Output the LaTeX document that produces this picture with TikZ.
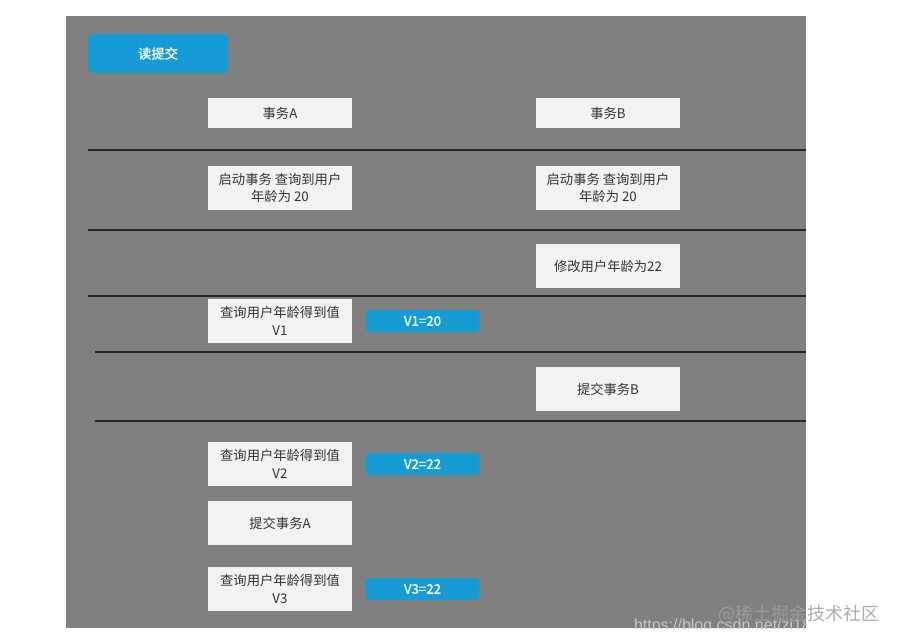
\documentclass[tikz,border=0pt]{standalone}
\usepackage{fontspec}
\setmainfont{Noto Sans CJK SC}
\newfontfamily\cjk{Noto Sans CJK SC}
\newfontfamily\cjkb[FakeBold=0.8]{Noto Sans CJK SC}
\newfontfamily\latinsans{Liberation Sans}
\definecolor{bggray}{HTML}{808080}
\definecolor{boxfill}{HTML}{F2F2F2}
\definecolor{bluefill}{HTML}{169BD5}
\definecolor{txt}{HTML}{333333}
\begin{document}
\begin{tikzpicture}[x=1pt,y=-1pt,
  every node/.style={inner sep=0pt, outer sep=0pt},
  stepbox/.style={fill=boxfill, text=txt, font=\cjk\fontsize{13.3}{17.5}\selectfont, align=center},
  bluebox/.style={fill=bluefill, rounded corners=3pt, text=white, font=\cjkb\fontsize{13.3}{16}\selectfont},
  sepline/.style={draw=black!85, line width=1.1pt}]
\useasboundingbox (0,0) rectangle (899,644);
\fill[white] (0,0) rectangle (899,644);
\fill[bggray] (66,16) rectangle (806,628);
% separator lines
\coordinate (l1a) at (88,150); \coordinate (l1b) at (806,150);
\coordinate (l2a) at (88,230); \coordinate (l2b) at (806,230);
\coordinate (l3a) at (88,296); \coordinate (l3b) at (806,296);
\coordinate (l4a) at (95,352); \coordinate (l4b) at (806,352);
\coordinate (l5a) at (95,421); \coordinate (l5b) at (806,421);
\draw[sepline] (l1a) -- (l1b);
\draw[sepline] (l2a) -- (l2b);
\draw[sepline] (l3a) -- (l3b);
\draw[sepline] (l4a) -- (l4b);
\draw[sepline] (l5a) -- (l5b);
% title
\node[bluebox, rounded corners=5pt, minimum width=140, minimum height=39] (title) at (158,53.5) {读提交};
% headers
\node[stepbox, minimum width=144, minimum height=30] (ta) at (280,113) {事务A};
\node[stepbox, minimum width=144, minimum height=30] (tb) at (608,113) {事务B};
% row 1
\node[stepbox, minimum width=144, minimum height=44] (a1) at (280,188) {启动事务 查询到用户\\年龄为 20};
\node[stepbox, minimum width=144, minimum height=44] (b1) at (608,188) {启动事务 查询到用户\\年龄为 20};
% row 2
\node[stepbox, minimum width=144, minimum height=44] (b2) at (608,266) {修改用户年龄为22};
% row 3
\node[stepbox, minimum width=144, minimum height=44] (a3) at (280,321) {查询用户年龄得到值\\V1};
\node[bluebox, minimum width=113, minimum height=22] (v1) at (422.5,321) {V1=20};
% row 4
\node[stepbox, minimum width=144, minimum height=44] (b4) at (608,389) {提交事务B};
% row 5
\node[stepbox, minimum width=144, minimum height=44] (a5) at (280,464) {查询用户年龄得到值\\V2};
\node[bluebox, minimum width=113, minimum height=22] (v2) at (422.5,464) {V2=22};
\node[stepbox, minimum width=144, minimum height=44] (a6) at (280,523) {提交事务A};
\node[stepbox, minimum width=144, minimum height=44] (a7) at (280,589) {查询用户年龄得到值\\V3};
\node[bluebox, minimum width=113, minimum height=22] (v3) at (422.5,589) {V3=22};
% watermarks
\begin{scope}
\clip (600,590) rectangle (806,628);
\node[anchor=base west, text=black!22, font=\latinsans\fontsize{16}{18}\selectfont] (wm1) at (634,630) {https://blog.csdn.net/zj18};
\end{scope}
\node[anchor=base west, text=black!38, font=\cjk\fontsize{18}{20}\selectfont, opacity=0.85] (wm2) at (718,620) {@稀土掘金技术社区};
\end{tikzpicture}
\end{document}
